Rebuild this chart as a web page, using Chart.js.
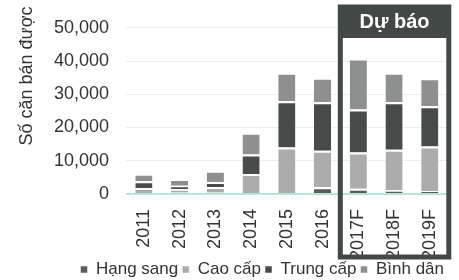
<!DOCTYPE html>
<html>
<head>
<meta charset="utf-8">
<script src="https://cdn.jsdelivr.net/npm/chart.js@4"></script>
<style>
  html, body { margin: 0; padding: 0; background: #fff; }
  #wrap { width: 459px; height: 280px; }
</style>
</head>
<body>
<div id="wrap"><canvas id="c"></canvas></div>
<script>
var years = ['2011', '2012', '2013', '2014', '2015', '2016', '2017F', '2018F', '2019F'];
var hangSang = [600, 500, 500, 300, 300, 2000, 1600, 1100, 900];
var caoCap = [1200, 1000, 1600, 5700, 13700, 11000, 10900, 12200, 13400];
var trungCap = [2000, 1000, 1500, 5900, 13900, 14600, 12900, 14300, 12100];
var binhDan = [2300, 2000, 3400, 6500, 8600, 7400, 15400, 8900, 8400];
var yTicks = [0, 10000, 20000, 30000, 40000, 50000];

var FONT = "'Liberation Sans', Arial, sans-serif";

function ds(label, data, color){
	return {
		label: label,
		data: data,
		backgroundColor: color,
		borderColor: '#fff',
		borderWidth: {top: 2, bottom: 0, left: 0, right: 0},
		borderSkipped: false,
		categoryPercentage: 1,
		barPercentage: 0.48
	};
}

// y title and forecast frame
var extras = {
	id: 'extras',
	afterDraw: function(chart){
		var ctx = chart.ctx;
		var x = chart.scales.x;
		ctx.save();
		ctx.fillStyle = '#333';
		ctx.font = '18px ' + FONT;
		ctx.translate(27, 76);
		ctx.rotate(-Math.PI / 2);
		ctx.textAlign = 'center';
		ctx.textBaseline = 'middle';
		ctx.fillText('Số căn bán được', 0, 0);
		ctx.restore();

		var left = x.getPixelForValue(6) - 18;
		var right = x.getPixelForValue(8) + 19;
		ctx.save();
		ctx.strokeStyle = '#424846';
		ctx.lineWidth = 5;
		ctx.strokeRect(left, 7, right - left, 250);
		ctx.fillStyle = '#424846';
		ctx.fillRect(left, 5, right - left, 33);
		ctx.fillStyle = '#fff';
		ctx.font = 'bold 20px ' + FONT;
		ctx.textAlign = 'center';
		ctx.textBaseline = 'middle';
		ctx.fillText('Dự báo', (left + right) / 2, 22);
		ctx.restore();
	}
};

new Chart(document.getElementById('c'), {
	type: 'bar',
	data: {
		labels: years,
		datasets: [
			ds('Hạng sang', hangSang, '#5a5c5b'),
			ds('Cao cấp', caoCap, '#acacac'),
			ds('Trung cấp', trungCap, '#474c4a'),
			ds('Bình dân', binhDan, '#8e908f')
		]
	},
	options: {
		responsive: true,
		maintainAspectRatio: false,
		animation: false,
		layout: {padding: {top: 15, right: 11, left: 0, bottom: -8}},
		plugins: {
			legend: {
				position: 'bottom',
				align: 'end',
				labels: {
					font: {family: FONT, size: 17, lineHeight: 1},
					color: '#333',
					usePointStyle: true,
					pointStyle: 'rect',
					boxWidth: 7,
					boxHeight: 7,
					padding: 4
				}
			},
			tooltip: {enabled: false}
		},
		scales: {
			x: {
				stacked: true,
				afterFit: function(s){ s.height = 63; },
				grid: {display: false},
				border: {display: false},
				ticks: {
					font: {family: FONT, size: 18},
					color: '#333',
					maxRotation: 90,
					minRotation: 90,
					padding: 7
				}
			},
			y: {
				stacked: true,
				min: 0,
				max: 50000,
				afterFit: function(s){ s.width = 126; },
				afterBuildTicks: function(s){
					s.ticks = yTicks.map(function(v){ return {value: v}; });
				},
				border: {display: false},
				grid: {
					drawTicks: false,
					color: function(c){ return c.tick.value === 0 ? '#b8e4d8' : '#ececec'; },
					lineWidth: function(c){ return c.tick.value === 0 ? 2 : 1; }
				},
				ticks: {
					font: {family: FONT, size: 18},
					color: '#333',
					padding: 17,
					callback: function(v){ return v.toLocaleString('en-US'); }
				}
			}
		}
	},
	plugins: [extras]
});
</script>
</body>
</html>
